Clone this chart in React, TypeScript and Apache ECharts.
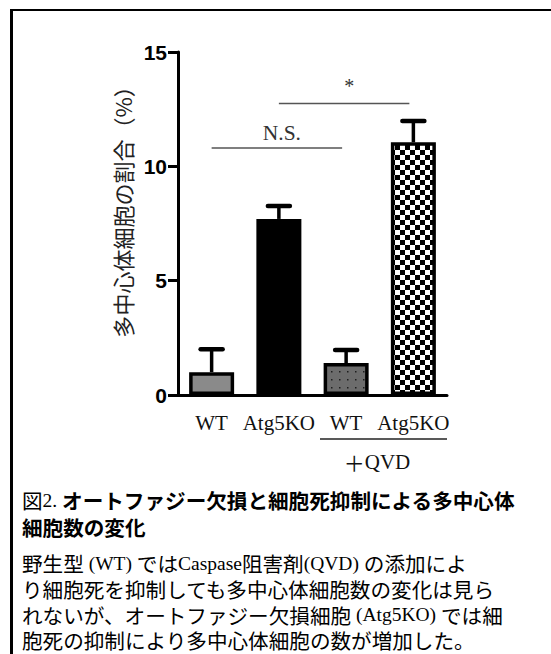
import React, { useEffect, useRef } from "react";
import * as echarts from "echarts";

const categories = ["WT", "Atg5KO", "WT", "Atg5KO"];
const means = [1.0, 7.7, 1.4, 11.05];
const errors = [1.0, 0.56, 0.57, 0.93];
const yMin = 0;
const yMax = 15;
const yInterval = 5;
const yAxisName = "多中心体細胞の割合（%）";
const sigPairs = [
  [0, 2],
  [1, 3],
];
const sigLevels = [10.8, 12.75];
const sigLabels = ["N.S.", "*"];
const groupLabel = "QVD";
const captionTitle1 = "オートファジー欠損と細胞死抑制による多中心体";
const captionTitle2 = "細胞数の変化";
const captionBody = [
  "{c|野生型}{s| (WT) }{c|では}{s|Caspase}{c|阻害剤}{s|(QVD) }{c|の添加によ}",
  "{c|り細胞死を抑制しても多中心体細胞数の変化は見ら}",
  "{c|れないが、オートファジー欠損細胞}{s| (Atg5KO) }{c|では細}",
  "{c|胞死の抑制により多中心体細胞の数が増加した。}",
];

const CJK = "'Noto Sans CJK JP', 'Noto Sans CJK SC', sans-serif";
const SERIF = "'Liberation Serif', 'DejaVu Serif', serif";

function makeChecker(): HTMLCanvasElement {
  const c = document.createElement("canvas");
  c.width = 10;
  c.height = 10;
  const g = c.getContext("2d")!;
  g.fillStyle = "#ffffff";
  g.fillRect(0, 0, 10, 10);
  g.fillStyle = "#000000";
  g.fillRect(0, 0, 5, 5);
  g.fillRect(5, 5, 5, 5);
  return c;
}

function makeDots(): HTMLCanvasElement {
  const c = document.createElement("canvas");
  c.width = 8;
  c.height = 8;
  const g = c.getContext("2d")!;
  g.fillStyle = "#6c6c6c";
  g.fillRect(0, 0, 8, 8);
  g.fillStyle = "#1e1e1e";
  g.fillRect(3, 3, 1.5, 1.5);
  return c;
}

export default function App() {
  const ref = useRef<HTMLDivElement>(null);

  useEffect(() => {
    if (!ref.current) return;
    const chart = echarts.init(ref.current, null, { renderer: "svg" });

    const fills: any[] = [
      "#8a8a8a",
      "#000000",
      { image: makeDots(), repeat: "repeat", imageWidth: 8, imageHeight: 8 },
      { image: makeChecker(), repeat: "repeat", imageWidth: 10, imageHeight: 10 },
    ];

    const captionRich = {
      r: { fontFamily: CJK, fontSize: 20.6, fill: "#000", lineHeight: 22 },
      c: { fontFamily: CJK, fontSize: 20.6, fill: "#000", lineHeight: 22 },
      s: { fontFamily: SERIF, fontSize: 19.5, fill: "#000", lineHeight: 22 },
      b: { fontFamily: CJK, fontSize: 20.6, fontWeight: "bold", fill: "#000", lineHeight: 22 },
    };

    const option: any = {
      animation: false,
      backgroundColor: "#ffffff",
      grid: { left: 178, right: 104, top: 52, bottom: 259, containLabel: false },
      xAxis: {
        type: "category",
        data: categories,
        axisLine: { lineStyle: { color: "#000", width: 3 } },
        axisTick: { alignWithLabel: true, length: 10, lineStyle: { color: "#000", width: 3 } },
        axisLabel: {
          interval: 0,
          fontFamily: SERIF,
          fontSize: 21,
          color: "#111",
          margin: 17,
          hideOverlap: false,
        },
      },
      yAxis: {
        type: "value",
        min: yMin,
        max: yMax,
        interval: yInterval,
        name: yAxisName,
        nameLocation: "middle",
        nameRotate: 90,
        nameGap: 45,
        nameTextStyle: { fontFamily: CJK, fontSize: 22, color: "#222", padding: [0, 0, 0, 34] },
        axisLine: { show: true, lineStyle: { color: "#000", width: 3 } },
        axisTick: { show: true, length: 10, lineStyle: { color: "#000", width: 3 } },
        axisLabel: {
          fontFamily: "'Liberation Sans', Arial, sans-serif",
          fontWeight: "bold",
          fontSize: 21,
          color: "#000",
          margin: 11,
        },
        splitLine: { show: false },
      },
      series: [
        {
          type: "bar",
          z: 3,
          barWidth: 45,
          data: means.map((v, i) => ({ value: v, itemStyle: { color: fills[i] } })),
          itemStyle: { borderColor: "#000", borderWidth: 3.5 },
        },
        {
          type: "custom",
          z: 2,
          data: means.map((m, i) => [i, m, errors[i]]),
          encode: { x: 0, y: 1 },
          renderItem: (params: any, api: any) => {
            const i = api.value(0);
            const m = api.value(1);
            const e = api.value(2);
            const base = api.coord([i, m]);
            const top = api.coord([i, m + e]);
            const hw = 11;
            return {
              type: "group",
              children: [
                {
                  type: "line",
                  shape: { x1: base[0], y1: base[1], x2: top[0], y2: top[1] },
                  style: { stroke: "#000", lineWidth: 3.5 },
                },
                {
                  type: "line",
                  shape: { x1: top[0] - hw, y1: top[1], x2: top[0] + hw, y2: top[1] },
                  style: { stroke: "#000", lineWidth: 4.5, lineCap: "round" },
                },
              ],
            };
          },
        },
        {
          type: "custom",
          z: 4,
          data: sigPairs.map((p, k) => [p[0], p[1], sigLevels[k]]),
          encode: { x: 0, y: 2 },
          renderItem: (params: any, api: any) => {
            const a = api.coord([api.value(0), api.value(2)]);
            const b = api.coord([api.value(1), api.value(2)]);
            const label = sigLabels[params.dataIndex];
            const isStar = label === "*";
            return {
              type: "group",
              children: [
                {
                  type: "line",
                  shape: { x1: a[0], y1: a[1], x2: b[0] - 4, y2: b[1] },
                  style: { stroke: "#555", lineWidth: 1.5 },
                },
                {
                  type: "text",
                  x: (a[0] + b[0]) / 2 + 3,
                  y: a[1] - (isStar ? 7 : 4),
                  style: {
                    text: label,
                    fill: "#333",
                    fontFamily: SERIF,
                    fontSize: isStar ? 20 : 21.5,
                    align: "center",
                    verticalAlign: "bottom",
                  },
                },
              ],
            };
          },
        },
      ],
      graphic: [
        { type: "rect", shape: { x: 10, y: 9, width: 541, height: 2 }, style: { fill: "#000" } },
        { type: "rect", shape: { x: 10, y: 9, width: 3, height: 645 }, style: { fill: "#000" } },
        {
          type: "line",
          shape: { x1: 320, y1: 439, x2: 447, y2: 439 },
          style: { stroke: "#222", lineWidth: 1.5 },
        },
        {
          type: "text",
          x: 377,
          y: 462,
          style: {
            text: "{p|＋}{s|" + groupLabel + "}",
            align: "center",
            verticalAlign: "middle",
            rich: {
              p: { fontFamily: CJK, fontSize: 21, fill: "#111" },
              s: { fontFamily: SERIF, fontSize: 21, fill: "#111" },
            },
          },
        },
        {
          type: "text",
          x: 22,
          y: 500,
          style: {
            text: "{r|図}{s|2. }{b|" + captionTitle1 + "}",
            verticalAlign: "middle",
            rich: captionRich,
          },
        },
        {
          type: "text",
          x: 22,
          y: 527,
          style: {
            text: "{b|" + captionTitle2 + "}",
            verticalAlign: "middle",
            rich: captionRich,
          },
        },
        ...captionBody.map((t, k) => ({
          type: "text",
          x: 22,
          y: 563 + k * 25.8,
          style: {
            text: t,
            verticalAlign: "middle",
            rich: captionRich,
          },
        })),
      ],
    };

    chart.setOption(option);
    return () => chart.dispose();
  }, []);

  return (
    <div
      ref={ref}
      style={{ position: "fixed", left: 0, top: 0, width: 551, height: 654, background: "#fff" }}
    />
  );
}
